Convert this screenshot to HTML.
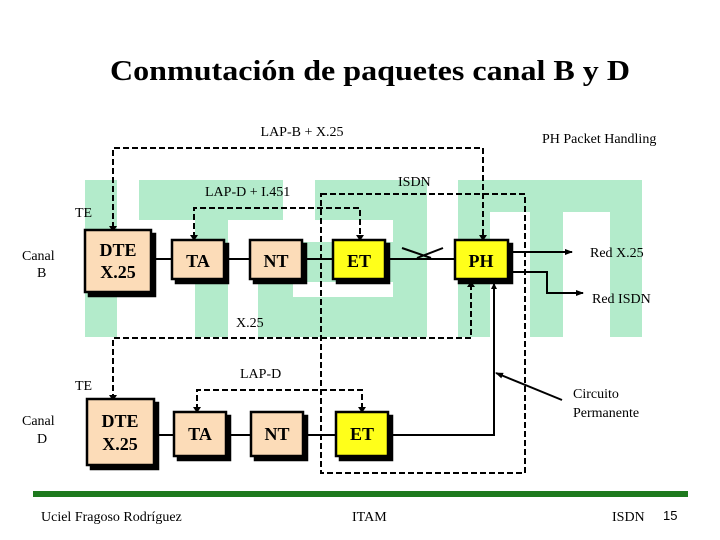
<!DOCTYPE html>
<html><head><meta charset="utf-8"><style>
html,body{margin:0;padding:0;background:#fff;width:720px;height:540px;overflow:hidden}
svg{display:block}
text{font-family:"Liberation Serif",serif;fill:#000}
</style></head><body>
<svg width="720" height="540" viewBox="0 0 720 540">
<defs>
<marker id="ah" markerWidth="8" markerHeight="8" refX="7" refY="4" orient="auto" markerUnits="userSpaceOnUse"><path d="M0,1 L8,4 L0,7 z" fill="#000"/></marker>
<marker id="as" markerWidth="6" markerHeight="6" refX="5" refY="3" orient="auto" markerUnits="userSpaceOnUse"><path d="M0,0 L6,3 L0,6 z" fill="#000"/></marker>
</defs>
<g fill="#b3ebcb">
<rect x="85" y="180" width="32" height="157"/>
<rect x="139" y="180" width="144" height="40"/>
<rect x="195" y="180" width="33" height="157"/>
<rect x="315" y="180" width="112" height="40"/>
<rect x="393" y="180" width="34" height="157"/>
<rect x="283" y="242" width="110" height="40"/>
<rect x="258" y="242" width="35" height="95"/>
<rect x="258" y="297" width="169" height="40"/>
<rect x="458" y="180" width="184" height="32"/>
<rect x="458" y="180" width="32" height="157"/>
<rect x="530" y="180" width="33" height="157"/>
<rect x="610" y="180" width="32" height="157"/>
</g>
<text x="370" y="80" font-size="29" font-weight="bold" text-anchor="middle" textLength="520" lengthAdjust="spacingAndGlyphs">Conmutación de paquetes canal B y D</text>
<g font-size="14">
<text x="302" y="136" text-anchor="middle">LAP-B + X.25</text>
<text x="542" y="143">PH Packet Handling</text>
<text x="398" y="186">ISDN</text>
<text x="205" y="196">LAP-D + I.451</text>
<text x="75" y="217">TE</text>
<text x="22" y="260">Canal</text>
<text x="37" y="277">B</text>
<text x="590" y="257">Red X.25</text>
<text x="592" y="303">Red ISDN</text>
<text x="236" y="327">X.25</text>
<text x="240" y="378">LAP-D</text>
<text x="75" y="390">TE</text>
<text x="22" y="425">Canal</text>
<text x="37" y="443">D</text>
<text x="573" y="398">Circuito</text>
<text x="573" y="417">Permanente</text>
<text x="41" y="521">Uciel Fragoso Rodríguez</text>
<text x="352" y="521">ITAM</text>
<text x="612" y="521">ISDN</text>
</g>
<text x="663" y="520" font-size="13" style="font-family:'Liberation Sans',sans-serif">15</text>
<rect x="33" y="491" width="655" height="6" fill="#1e7a1e"/>
<g stroke="#000" stroke-width="2" fill="none">
<line x1="152" y1="259" x2="175" y2="259"/>
<line x1="226" y1="259" x2="252" y2="259"/>
<line x1="303" y1="259" x2="335" y2="259"/>
<line x1="387" y1="259" x2="458" y2="259"/>
<line x1="402" y1="248" x2="431" y2="258"/>
<line x1="417" y1="258" x2="443" y2="248"/>
<line x1="510" y1="252" x2="572" y2="252" marker-end="url(#ah)"/>
<polyline points="510,272 547,272 547,293 583,293" marker-end="url(#ah)"/>
<line x1="156" y1="435" x2="176" y2="435"/>
<line x1="228" y1="435" x2="253" y2="435"/>
<line x1="305" y1="435" x2="338" y2="435"/>
<polyline points="390,435 494,435 494,284" marker-end="url(#as)"/>
<line x1="562" y1="400" x2="496" y2="373" marker-end="url(#ah)"/>
</g>
<g stroke="#000" stroke-width="2" fill="none" stroke-dasharray="6,3">
<polyline points="113,228 113,148 483,148 483,238" />
<polyline points="194,238 194,208 360,208 360,238"/>
<rect x="321" y="194" width="204" height="279"/>
<polyline points="471,284 471,338 113,338 113,397"/>
<polyline points="197,410 197,390 362,390 362,410"/>
</g>
<g fill="#000">
<path d="M109,226 L117,226 L113,232 z"/>
<path d="M479,235 L487,235 L483,241 z"/>
<path d="M190,235 L198,235 L194,241 z"/>
<path d="M356,235 L364,235 L360,241 z"/>
<path d="M467,287 L475,287 L471,281 z"/>
<path d="M109,395 L117,395 L113,401 z"/>
<path d="M193,407 L201,407 L197,413 z"/>
<path d="M358,407 L366,407 L362,413 z"/>
</g>
<g stroke="#000" stroke-width="2.5">
<rect x="89" y="234" width="66" height="62" fill="#000"/>
<rect x="85" y="230" width="66" height="62" fill="#fcdcb8"/>
<rect x="176" y="244" width="52" height="39" fill="#000"/>
<rect x="172" y="240" width="52" height="39" fill="#fcdcb8"/>
<rect x="254" y="244" width="52" height="39" fill="#000"/>
<rect x="250" y="240" width="52" height="39" fill="#fcdcb8"/>
<rect x="337" y="244" width="52" height="39" fill="#000"/>
<rect x="333" y="240" width="52" height="39" fill="#ffff1a"/>
<rect x="459" y="244" width="53" height="39" fill="#000"/>
<rect x="455" y="240" width="53" height="39" fill="#ffff1a"/>
<rect x="91" y="403" width="67" height="66" fill="#000"/>
<rect x="87" y="399" width="67" height="66" fill="#fcdcb8"/>
<rect x="178" y="416" width="52" height="44" fill="#000"/>
<rect x="174" y="412" width="52" height="44" fill="#fcdcb8"/>
<rect x="255" y="416" width="52" height="44" fill="#000"/>
<rect x="251" y="412" width="52" height="44" fill="#fcdcb8"/>
<rect x="340" y="416" width="52" height="44" fill="#000"/>
<rect x="336" y="412" width="52" height="44" fill="#ffff1a"/>
</g>
<g font-size="18" font-weight="bold" text-anchor="middle">
<text x="118" y="256">DTE</text>
<text x="118" y="278">X.25</text>
<text x="198" y="267">TA</text>
<text x="276" y="267">NT</text>
<text x="359" y="267">ET</text>
<text x="481" y="267">PH</text>
<text x="120" y="427">DTE</text>
<text x="120" y="450">X.25</text>
<text x="200" y="440">TA</text>
<text x="277" y="440">NT</text>
<text x="362" y="440">ET</text>
</g>
</svg>
</body></html>
